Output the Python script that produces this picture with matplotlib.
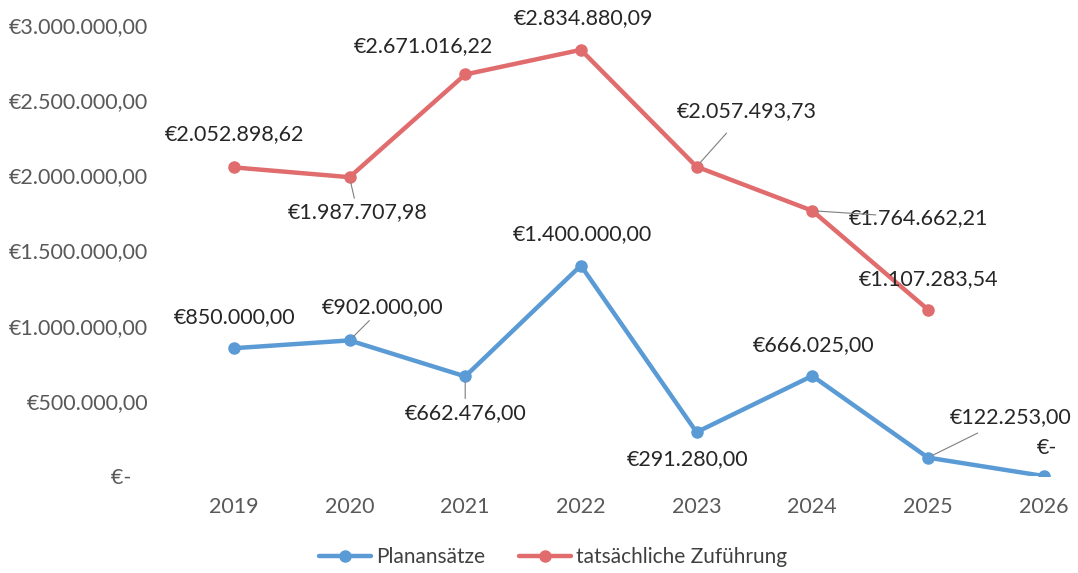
import matplotlib.pyplot as plt
from matplotlib.ticker import FuncFormatter

plt.rcParams['font.family'] = ['Lato', 'DejaVu Sans']

jahre = ['2019', '2020', '2021', '2022', '2023', '2024', '2025', '2026']
planansaetze = [850000.00, 902000.00, 662476.00, 1400000.00, 291280.00, 666025.00, 122253.00, 0.0]
zufuehrung = [2052898.62, 1987707.98, 2671016.22, 2834880.09, 2057493.73, 1764662.21, 1107283.54]

# label offsets in pixels (dx, dy) and whether a leader line is drawn
off_plan = [(1, 31, 0), (33, 33, 1), (0, -37, 1), (2, 31, 0), (-9, -27, 0), (1, 31, 0), (83, 41, 1), (3, 28, 0)]
off_zuf = [(1, 33, 0), (8, -35, 1), (-42, 28, 0), (3, 32, 0), (50, 56, 1), (106, -7, 1), (1, 30, 0)]

BLAU = '#5B9BD5'
ROT = '#E06C6E'


def euro(v, pos=None):
    if v == 0:
        return '€-   '
    s = '{:,.2f}'.format(v)
    s = s.replace(',', 'X').replace('.', ',').replace('X', '.')
    return '€' + s


fig = plt.figure(figsize=(10.78, 5.73), dpi=100)
ax = fig.add_axes([176 / 1078, 97 / 573, 0.837, 451 / 573])

x = list(range(len(jahre)))
ax.plot(x, planansaetze, color=BLAU, lw=3.2, marker='o', ms=8, label='Planansätze', solid_capstyle='round')
ax.plot(x[:len(zufuehrung)], zufuehrung, color=ROT, lw=3.2, marker='o', ms=8, label='tatsächliche Zuführung',
        solid_capstyle='round')

for serie, offs in ((planansaetze, off_plan), (zufuehrung, off_zuf)):
    for i, v in enumerate(serie):
        dx, dy, leader = offs[i]
        txt = '€-' if v == 0 else euro(v)
        ax.annotate(txt, (i, v), xytext=(dx, dy), textcoords='offset pixels', ha='center', va='center',
                    fontsize=15.5, color='#262626', annotation_clip=False)
        if leader:
            ax.annotate('', (i, v), xytext=(dx * 0.6, dy * 0.6), textcoords='offset pixels',
                        arrowprops=dict(arrowstyle='-', color='#7f7f7f', lw=0.8, shrinkA=0, shrinkB=4))

ax.set_xlim(-0.5, 7.3)
ax.set_ylim(0, 3000000)
ax.set_yticks([0, 500000, 1000000, 1500000, 2000000, 2500000, 3000000])
ax.yaxis.set_major_formatter(FuncFormatter(euro))
ax.set_xticks(x)
ax.set_xticklabels(jahre)
ax.tick_params(axis='y', length=0, pad=20, labelsize=15.5, labelcolor='#595959')
ax.tick_params(axis='x', length=0, pad=15, labelsize=15.5, labelcolor='#595959')
for s in ax.spines.values():
    s.set_visible(False)

fig.legend(loc='center', bbox_to_anchor=(553 / 1078, 1 - 557 / 573), ncol=2, frameon=False,
           fontsize=15, labelcolor='#404040', handlelength=2.5, handletextpad=0.25, columnspacing=1.6)

fig.savefig('out.png', dpi=100)
